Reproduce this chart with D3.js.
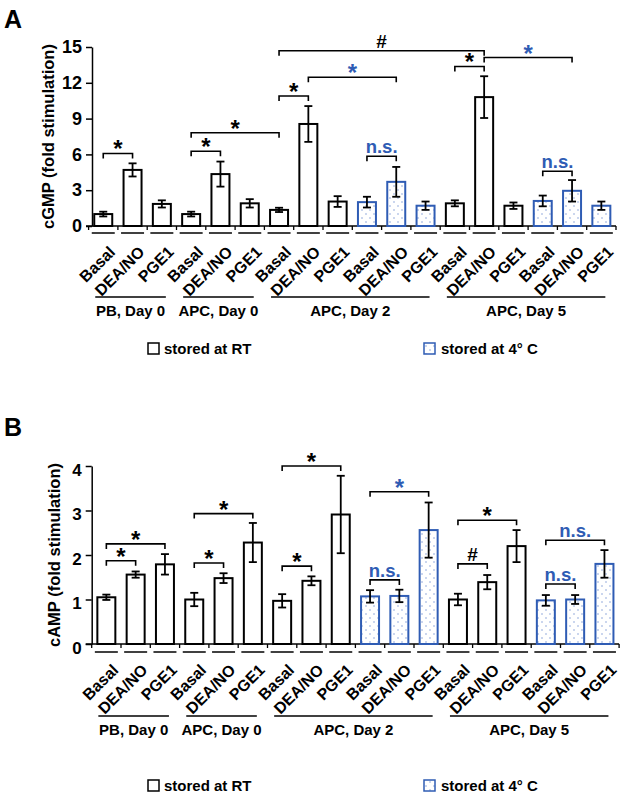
<!DOCTYPE html>
<html><head><meta charset="utf-8">
<script src="https://cdn.jsdelivr.net/npm/d3@7"></script>
<style>
body{margin:0;background:#fff;}
svg text{font-family:"Liberation Sans",Arial,sans-serif;font-weight:bold;}
</style>
</head><body>
<svg id="chart" width="620" height="800"></svg>
<script>
// ---------- data ----------
const categories = ["Basal","DEA/NO","PGE1","Basal","DEA/NO","PGE1",
  "Basal","DEA/NO","PGE1","Basal","DEA/NO","PGE1",
  "Basal","DEA/NO","PGE1","Basal","DEA/NO","PGE1"];
const storage = ["RT","RT","RT","RT","RT","RT","RT","RT","RT","4C","4C","4C",
  "RT","RT","RT","4C","4C","4C"];
const groupNames = ["PB, Day 0","APC, Day 0","APC, Day 2","APC, Day 5"];
const groupFirst = [0,3,6,12];
const groupLast  = [2,5,11,17];

const cgmpValues = [1.0,4.7,1.85,1.0,4.35,1.9,1.35,8.55,2.05,2.0,3.7,1.7,1.9,10.8,1.7,2.1,2.95,1.7];
const cgmpErrors = [0.2,0.55,0.3,0.2,1.05,0.35,0.18,1.5,0.45,0.45,1.25,0.35,0.25,1.75,0.27,0.45,0.9,0.35];
const campValues = [1.05,1.56,1.79,1.0,1.48,2.28,0.97,1.42,2.91,1.07,1.08,2.56,1.0,1.39,2.2,0.98,1.0,1.8];
const campErrors = [0.06,0.07,0.23,0.15,0.11,0.44,0.15,0.1,0.87,0.14,0.14,0.62,0.13,0.16,0.36,0.12,0.1,0.31];

const cgmpTicks = [0,3,6,9,12,15];
const campTicks = [0,1,2,3,4];

// significance brackets: from bar, to bar, bracket level (data units), label, colour key
const cgmpSig = [
  [0,1,6.08,"*","k"],[3,4,6.27,"*","k"],[3,6,7.81,"*","k"],[6,7,10.9,"*","k"],
  [6,13,14.69,"#","k"],[7,10,12.47,"*","b"],[12,13,13.37,"*","k"],[13,16,14.12,"*","b"],
  [9,10,5.85,"n.s.","b"],[15,16,4.59,"n.s.","b"]
];
const campSig = [
  [0,1,1.87,"*","k"],[0,2,2.25,"*","k"],[3,4,1.82,"*","k"],[3,5,2.93,"*","k"],
  [6,7,1.75,"*","k"],[6,8,4.0,"*","k"],[9,11,3.42,"*","b"],[9,10,1.44,"n.s.","b"],
  [12,14,2.78,"*","k"],[12,13,1.8,"#","k"],[15,17,2.33,"n.s.","b"],[15,16,1.35,"n.s.","b"]
];
const legendLabels = ["stored at RT","stored at 4° C"];

// ---------- drawing ----------
const BLUE = "#2f5cb4";
const svg = d3.select("#chart");
const defs = svg.append("defs");
const pat = defs.append("pattern").attr("id","dots").attr("patternUnits","userSpaceOnUse")
  .attr("width",8).attr("height",8);
pat.append("rect").attr("width",8).attr("height",8).attr("fill","#fff");
pat.append("circle").attr("cx",2).attr("cy",2).attr("r",0.75).attr("fill","#7d9ad6");
pat.append("circle").attr("cx",6).attr("cy",6).attr("r",0.75).attr("fill","#7d9ad6");

function panel(cfg){
  const g = svg.append("g");
  const x = d3.scaleBand().domain(d3.range(categories.length))
    .range([cfg.x0, cfg.x0 + 18*29.3]).paddingInner(0.386).paddingOuter(0.193);
  const y = d3.scaleLinear().domain([0, cfg.ymax]).range([cfg.yBottom, cfg.yTop]);
  const bw = x.bandwidth();
  const cx = i => x(i) + bw/2;

  // panel letter
  g.append("text").attr("x",4).attr("y",cfg.letterY).attr("font-size",25).text(cfg.letter);

  // y axis
  const yAxis = d3.axisLeft(y).tickValues(cfg.ticks).tickFormat(d3.format("d"))
    .tickSize(6).tickPadding(4).tickSizeOuter(0);
  const ya = g.append("g").attr("transform",`translate(${cfg.axisX},0)`).call(yAxis);
  ya.select(".domain").attr("stroke","#000").attr("stroke-width",1.5);
  ya.selectAll(".tick line").attr("stroke","#000").attr("stroke-width",1.5);
  ya.selectAll(".tick text").attr("font-size",cfg.tickFont).attr("fill","#000")
    .attr("dy",cfg.tickDy);

  // y label
  g.append("text").attr("transform",`translate(${cfg.ylabX},${(cfg.yTop+cfg.yBottom)/2}) rotate(-90)`)
    .attr("text-anchor","middle").attr("font-size",16.5).text(cfg.ylabel);

  // x axis
  const xa = g.append("g").attr("transform",`translate(0,${cfg.yBottom})`);
  xa.append("line").attr("x1",cfg.axisX-6).attr("x2",x.range()[1]).attr("stroke","#000").attr("stroke-width",1.5);
  const bounds = d3.range(categories.length+1).map(i => i<categories.length ? x(i)-x.step()*0.193 : x(i-1)+bw+x.step()*0.193);
  xa.selectAll("line.t").data(bounds).join("line").attr("class","t")
    .attr("x1",d=>d).attr("x2",d=>d).attr("y1",0).attr("y2",4).attr("stroke","#000").attr("stroke-width",1.3);
  // dashes under bars
  xa.selectAll("line.d").data(categories).join("line").attr("class","d")
    .attr("x1",(d,i)=>cx(i)-11.5).attr("x2",(d,i)=>cx(i)+11.5).attr("y1",cfg.dashDy).attr("y2",cfg.dashDy)
    .attr("stroke","#000").attr("stroke-width",1.5);
  // category labels
  xa.selectAll("text.c").data(categories).join("text").attr("class","c")
    .attr("transform",(d,i)=>`translate(${cx(i)+13},${cfg.labDy}) rotate(-45)`)
    .attr("text-anchor","end").attr("font-size",16).text(d=>d);
  // group lines & labels
  groupNames.forEach((name,k)=>{
    const a = x(groupFirst[k])+1, b = x(groupLast[k])+bw-5;
    g.append("line").attr("x1",a).attr("x2",b).attr("y1",cfg.groupLineY).attr("y2",cfg.groupLineY)
      .attr("stroke","#000").attr("stroke-width",1.5);
    g.append("text").attr("x",(a+b)/2).attr("y",cfg.groupTextY).attr("text-anchor","middle")
      .attr("font-size",15).text(name);
  });

  // bars
  g.selectAll("rect.bar").data(cfg.values).join("rect").attr("class","bar")
    .attr("x",(d,i)=>x(i)).attr("width",bw)
    .attr("y",d=>y(d)).attr("height",d=>y(0)-y(d))
    .attr("fill",(d,i)=>storage[i]==="4C"?"url(#dots)":"#fff")
    .attr("stroke",(d,i)=>storage[i]==="4C"?BLUE:"#000").attr("stroke-width",2);
  // error bars
  const eb = g.selectAll("g.eb").data(cfg.values).join("g").attr("class","eb")
    .attr("stroke","#000").attr("stroke-width",1.8);
  eb.append("line").attr("x1",(d,i)=>cx(i)).attr("x2",(d,i)=>cx(i))
    .attr("y1",(d,i)=>y(d+cfg.errors[i])).attr("y2",(d,i)=>y(d-cfg.errors[i]));
  eb.append("line").attr("x1",(d,i)=>cx(i)-4).attr("x2",(d,i)=>cx(i)+4)
    .attr("y1",(d,i)=>y(d+cfg.errors[i])).attr("y2",(d,i)=>y(d+cfg.errors[i]));
  eb.append("line").attr("x1",(d,i)=>cx(i)-4).attr("x2",(d,i)=>cx(i)+4)
    .attr("y1",(d,i)=>y(d-cfg.errors[i])).attr("y2",(d,i)=>y(d-cfg.errors[i]));

  // significance brackets
  cfg.sig.forEach(([a,b,lv,lab,col])=>{
    const yy = y(lv), xa1 = cx(a), xb1 = cx(b);
    g.append("path").attr("d",`M${xa1},${yy+5}V${yy}H${xb1}V${yy+5}`)
      .attr("fill","none").attr("stroke","#000").attr("stroke-width",1.6);
    const fill = col==="b"?BLUE:"#000";
    const t = g.append("text").attr("x",(xa1+xb1)/2).attr("text-anchor","middle").attr("fill",fill).text(lab);
    if(lab==="*") t.attr("y",yy+4).attr("font-size",24);
    else if(lab==="#") t.attr("y",yy-3).attr("font-size",19);
    else t.attr("y",yy-3).attr("font-size",18.5);
  });

  // legend
  const ly = cfg.legendY;
  g.append("rect").attr("x",148).attr("y",ly-11).attr("width",11).attr("height",11)
    .attr("fill","#fff").attr("stroke","#000").attr("stroke-width",1.5);
  g.append("text").attr("x",164).attr("y",ly).attr("font-size",15).text(legendLabels[0]);
  g.append("rect").attr("x",424).attr("y",ly-11).attr("width",11).attr("height",11)
    .attr("fill","url(#dots)").attr("stroke",BLUE).attr("stroke-width",1.5);
  g.append("text").attr("x",441).attr("y",ly).attr("font-size",15).text(legendLabels[1]);
}

panel({letter:"A",letterY:28,values:cgmpValues,errors:cgmpErrors,ticks:cgmpTicks,ymax:15,
  yTop:47,yBottom:226,axisX:92,x0:88.6,tickFont:18,tickDy:"0.32em",ylabX:54,
  ylabel:"cGMP (fold stimulation)",sig:cgmpSig,dashDy:7,labDy:27,groupLineY:297,groupTextY:316,legendY:354});
panel({letter:"B",letterY:436,values:campValues,errors:campErrors,ticks:campTicks,ymax:4,
  yTop:466,yBottom:644,axisX:91.7,x0:91.7,tickFont:17,tickDy:"0.55em",ylabX:60,
  ylabel:"cAMP (fold stimulation)",sig:campSig,dashDy:8,labDy:27,groupLineY:716,groupTextY:735,legendY:791});
</script>
</body></html>
